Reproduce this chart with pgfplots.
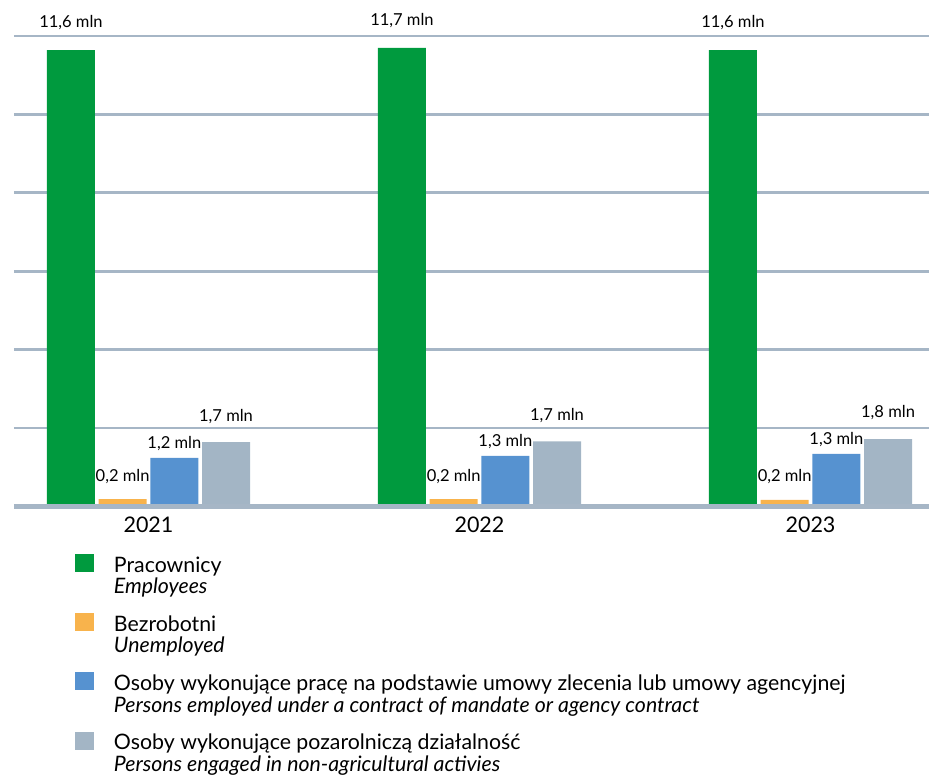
\documentclass[border=0pt]{standalone}
\usepackage{fontspec}
\setmainfont{Lato}
\usepackage{pgfplots}
\pgfplotsset{compat=1.18}
\definecolor{cGreen}{RGB}{0,154,62}
\definecolor{cOrange}{RGB}{248,179,76}
\definecolor{cBlue}{RGB}{86,146,208}
\definecolor{cGray}{RGB}{163,181,197}
\definecolor{cGrid}{RGB}{166,182,198}
\begin{document}
\begin{tikzpicture}
\useasboundingbox (0,0) rectangle (929pt,-778pt);
\begin{axis}[
  at={(14pt,-506.5pt)}, anchor=south west,
  scale only axis, width=915pt, height=470.5pt,
  xmin=-0.4063, xmax=2.358, ymin=0, ymax=12,
  enlargelimits=false, clip=false,
  axis line style={draw=none},
  major tick length=0pt, tick style={draw=none},
  ytick={2,4,6,8,10,12}, yticklabels={},
  ymajorgrids, major grid style={color=cGrid, line width=2.7pt},
  xtick={0,1,2}, xticklabels={2021,2022,2023},
  xticklabel style={font=\fontsize{21.5}{24}\selectfont, anchor=base, inner sep=0pt, yshift=-25.5pt},
  ybar, bar width=48pt,
  point meta=explicit symbolic,
  nodes near coords,
  every node near coord/.append style={font=\fontsize{16.5}{18}\selectfont, inner sep=0pt, text depth=0pt, anchor=south, text=black},
  legend cell align=left,
  legend style={at={(axis description cs:0.06667,-0.101)}, anchor=north west, draw=none, fill=none,
    inner sep=0pt, outer sep=0pt, row sep=0pt, column sep=0pt,
    cells={anchor=base west},
    nodes={inner sep=0pt, text depth={}, text height={}, font=\fontsize{21.3}{24}\selectfont}},
  legend image code/.code={\fill[#1] (0pt,0pt) rectangle (19pt,18pt); \path (39pt,0pt);},
]
\addplot[forget plot, fill=cGreen, draw=none, bar shift=-77.55pt,
  every node near coord/.append style={yshift=22pt}]
  coordinates {(0,11.64) [11,6 mln] (1,11.70) [11,7 mln] (2,11.64) [11,6 mln]};
\addplot[forget plot, fill=cOrange, draw=none, bar shift=-25.85pt,
  every node near coord/.append style={yshift=17.7pt}]
  coordinates {(0,0.19) [0,2 mln] (1,0.19) [0,2 mln] (2,0.17) [0,2 mln]};
\addplot[forget plot, fill=cBlue, draw=none, bar shift=25.85pt,
  every node near coord/.append style={yshift=9pt}]
  coordinates {(0,1.24) [1,2 mln] (1,1.29) [1,3 mln] (2,1.34) [1,3 mln]};
\addplot[forget plot, fill=cGray, draw=none, bar shift=77.55pt,
  every node near coord/.append style={yshift=21pt}]
  coordinates {(0,1.64) [1,7 mln] (1,1.66) [1,7 mln] (2,1.72) [1,8 mln]};
\draw[cGrid, line width=5pt] (rel axis cs:0,0) -- (rel axis cs:1,0);
\addlegendimage{fill=cGreen, draw=none}
\addlegendentry{\rule[-6pt]{0pt}{18pt}Pracownicy}
\addlegendimage{empty legend}
\addlegendentry{\rule[-19.5pt]{0pt}{15.5pt}\textit{Employees}}
\addlegendimage{fill=cOrange, draw=none}
\addlegendentry{\rule[-6pt]{0pt}{18pt}Bezrobotni}
\addlegendimage{empty legend}
\addlegendentry{\rule[-19.5pt]{0pt}{15.5pt}\textit{Unemployed}}
\addlegendimage{fill=cBlue, draw=none}
\addlegendentry{\rule[-6pt]{0pt}{18pt}Osoby wykonujące pracę na podstawie umowy zlecenia lub umowy agencyjnej}
\addlegendimage{empty legend}
\addlegendentry{\rule[-19.5pt]{0pt}{15.5pt}\textit{Persons employed under a contract of mandate or agency contract}}
\addlegendimage{fill=cGray, draw=none}
\addlegendentry{\rule[-6pt]{0pt}{18pt}Osoby wykonujące pozarolniczą działalność}
\addlegendimage{empty legend}
\addlegendentry{\rule[-19.5pt]{0pt}{15.5pt}\textit{Persons engaged in non-agricultural activies}}
\end{axis}
\end{tikzpicture}
\end{document}
